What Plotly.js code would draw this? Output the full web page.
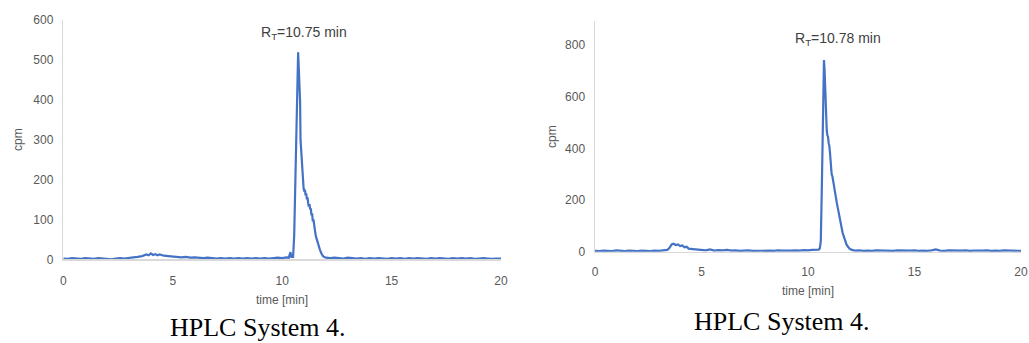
<!DOCTYPE html>
<html>
<head>
<meta charset="utf-8">
<script src="https://cdn.plot.ly/plotly-3.0.1.min.js"></script>
<style>html,body{margin:0;padding:0;background:#fff;}#chart{width:1029px;height:343px;}</style>
</head>
<body>
<div id="chart"></div>
<script>
// Left chromatogram (HPLC System 4, RT 10.75 min)
const timeA = [0,0.2,0.4,0.6,0.8,1.0,1.2,1.4,1.6,1.8,2.0,2.2,2.4,2.6,2.8,3.0,3.2,3.4,3.6,3.8,3.9,4.0,4.1,4.2,4.3,4.4,4.6,4.8,5.0,5.2,5.4,5.6,5.8,6.0,6.2,6.4,6.6,6.8,7.0,7.2,7.4,7.6,7.8,8.0,8.2,8.4,8.6,8.8,9.0,9.2,9.4,9.6,9.8,10.0,10.2,10.3,10.38,10.42,10.5,10.55,10.6,10.65,10.7,10.73,10.76,10.8,10.82,10.84,10.86,10.88,10.9,10.92,10.94,10.96,10.98,11.01,11.04,11.07,11.1,11.13,11.16,11.19,11.22,11.25,11.28,11.31,11.34,11.37,11.4,11.43,11.46,11.5,11.54,11.58,11.62,11.66,11.72,11.8,11.87,11.95,12.0,12.2,12.4,12.6,12.8,13.0,13.2,13.4,13.6,13.8,14.0,14.2,14.4,14.6,14.8,15.0,15.2,15.4,15.6,15.8,16.0,16.2,16.4,16.6,16.8,17.0,17.2,17.4,17.6,17.8,18.0,18.2,18.4,18.6,18.8,19.0,19.2,19.4,19.6,19.8,20.0];
const cpmA  = [2,1,3,2,1,3,2,1,3,2,1,0,2,3,2,4,5,6,8,12,10,15,11,13,10,12,9,8,7,6,5,6,4,5,4,3,4,3,2,3,2,3,2,3,2,3,2,3,2,3,2,3,4,3,5,4,18,6,6,60,200,380,500,519,480,410,395,300,280,250,235,210,190,182,178,170,175,160,165,150,155,140,132,138,125,128,110,115,95,100,80,72,58,50,42,34,25,14,8,5,4,3,4,3,2,4,3,2,3,1,3,2,3,2,1,3,2,3,1,3,2,3,2,1,3,2,3,2,1,3,2,3,2,3,1,2,3,2,1,2,2];

// Right chromatogram (HPLC System 4, RT 10.78 min)
const timeB = [0,0.2,0.4,0.6,0.8,1.0,1.2,1.4,1.6,1.8,2.0,2.2,2.4,2.6,2.8,3.0,3.2,3.4,3.5,3.6,3.68,3.8,3.9,4.0,4.1,4.2,4.3,4.4,4.6,4.8,5.0,5.2,5.4,5.6,5.8,6.0,6.2,6.4,6.6,6.8,7.0,7.2,7.4,7.6,7.8,8.0,8.2,8.4,8.6,8.8,9.0,9.2,9.4,9.6,9.8,10.0,10.2,10.4,10.5,10.55,10.6,10.65,10.7,10.73,10.75,10.78,10.82,10.85,10.88,10.91,10.94,10.97,11.0,11.03,11.07,11.11,11.15,11.19,11.23,11.27,11.31,11.35,11.39,11.42,11.46,11.5,11.54,11.58,11.62,11.66,11.7,11.74,11.8,11.85,11.91,11.97,12.1,12.2,12.4,12.6,12.8,13.0,13.2,13.4,13.6,13.8,14.0,14.2,14.4,14.6,14.8,15.0,15.2,15.4,15.6,15.8,16.0,16.2,16.4,16.6,16.8,17.0,17.2,17.4,17.6,17.8,18.0,18.2,18.4,18.6,18.8,19.0,19.2,19.4,19.6,19.8,20.0];
const cpmB  = [3,2,4,3,2,5,3,2,4,3,2,4,3,2,4,3,5,7,15,28,31,26,28,22,24,17,19,12,10,8,6,5,9,4,6,5,7,4,5,3,4,5,3,4,3,5,4,3,5,4,3,4,5,4,6,5,7,6,8,12,40,250,550,700,742,700,560,505,470,450,445,420,410,385,330,300,290,265,255,225,210,190,172,160,145,120,100,90,75,64,52,40,30,22,15,10,6,4,5,3,4,3,5,4,3,4,3,5,4,3,4,5,3,4,3,5,9,4,3,5,4,3,4,5,3,4,3,4,5,3,4,3,5,4,3,4,3,3];

const titleCpm = "cpm";
const titleTime = "time [min]";
const caption = "HPLC System 4.";
const rtA = "R<sub>T</sub>=10.75 min";
const rtB = "R<sub>T</sub>=10.78 min";

const W = 1029, H = 343;
const px = x => x / W;
const py = y => 1 - y / H;

const lineStyle = {color: '#4472C4', width: 2.2};
const tickFont = {family: 'Liberation Sans, Arial, sans-serif', size: 12, color: '#595959'};

const data = [
  {x: timeA, y: cpmA, type: 'scatter', mode: 'lines', line: lineStyle, xaxis: 'x', yaxis: 'y', hoverinfo: 'skip'},
  {x: timeB, y: cpmB, type: 'scatter', mode: 'lines', line: lineStyle, xaxis: 'x2', yaxis: 'y2', hoverinfo: 'skip'}
];

const axBase = {
  showgrid: false, zeroline: false, ticks: '', showline: true,
  linecolor: '#d9d9d9', linewidth: 1.5, tickfont: tickFont, fixedrange: true
};

const layout = {
  width: W, height: H, autosize: false,
  margin: {l: 0, r: 0, t: 0, b: 0, pad: 0},
  paper_bgcolor: '#fff', plot_bgcolor: '#fff',
  showlegend: false,
  xaxis:  Object.assign({}, axBase, {domain: [px(63.3), px(501)], range: [0, 20], dtick: 5, tick0: 0, anchor: 'y', ticklabelstandoff: 10}),
  yaxis:  Object.assign({}, axBase, {domain: [py(259.3), py(20)], range: [0, 600], dtick: 100, tick0: 0, anchor: 'x', ticklabelstandoff: 6}),
  xaxis2: Object.assign({}, axBase, {domain: [px(595), px(1021)], range: [0, 20], dtick: 5, tick0: 0, anchor: 'y2', ticklabelstandoff: 8}),
  yaxis2: Object.assign({}, axBase, {domain: [py(251.7), py(20.7)], range: [0, 894], dtick: 200, tick0: 0, anchor: 'x2', ticklabelstandoff: 6}),
  annotations: [
    {text: rtA, xref: 'paper', yref: 'paper', x: px(304), y: py(33), xanchor: 'center', yanchor: 'middle', showarrow: false, font: {family: 'Liberation Sans, Arial, sans-serif', size: 14, color: '#404040'}},
    {text: rtB, xref: 'paper', yref: 'paper', x: px(838), y: py(39), xanchor: 'center', yanchor: 'middle', showarrow: false, font: {family: 'Liberation Sans, Arial, sans-serif', size: 14, color: '#404040'}},
    {text: titleCpm, xref: 'paper', yref: 'paper', x: px(18), y: py(140), textangle: -90, xanchor: 'center', yanchor: 'middle', showarrow: false, font: {family: 'Liberation Sans, Arial, sans-serif', size: 12, color: '#595959'}},
    {text: titleCpm, xref: 'paper', yref: 'paper', x: px(552), y: py(137), textangle: -90, xanchor: 'center', yanchor: 'middle', showarrow: false, font: {family: 'Liberation Sans, Arial, sans-serif', size: 12, color: '#595959'}},
    {text: titleTime, xref: 'paper', yref: 'paper', x: px(282), y: py(300), xanchor: 'center', yanchor: 'middle', showarrow: false, font: {family: 'Liberation Sans, Arial, sans-serif', size: 12, color: '#595959'}},
    {text: titleTime, xref: 'paper', yref: 'paper', x: px(808), y: py(291), xanchor: 'center', yanchor: 'middle', showarrow: false, font: {family: 'Liberation Sans, Arial, sans-serif', size: 12, color: '#595959'}},
    {text: caption, xref: 'paper', yref: 'paper', x: px(258), y: py(327), xanchor: 'center', yanchor: 'middle', showarrow: false, borderpad: 0, font: {family: 'Liberation Serif, serif', size: 26, color: '#000'}},
    {text: caption, xref: 'paper', yref: 'paper', x: px(782), y: py(321), xanchor: 'center', yanchor: 'middle', showarrow: false, borderpad: 0, font: {family: 'Liberation Serif, serif', size: 26, color: '#000'}}
  ]
};

Plotly.newPlot('chart', data, layout, {staticPlot: true, displayModeBar: false});
</script>
</body>
</html>
